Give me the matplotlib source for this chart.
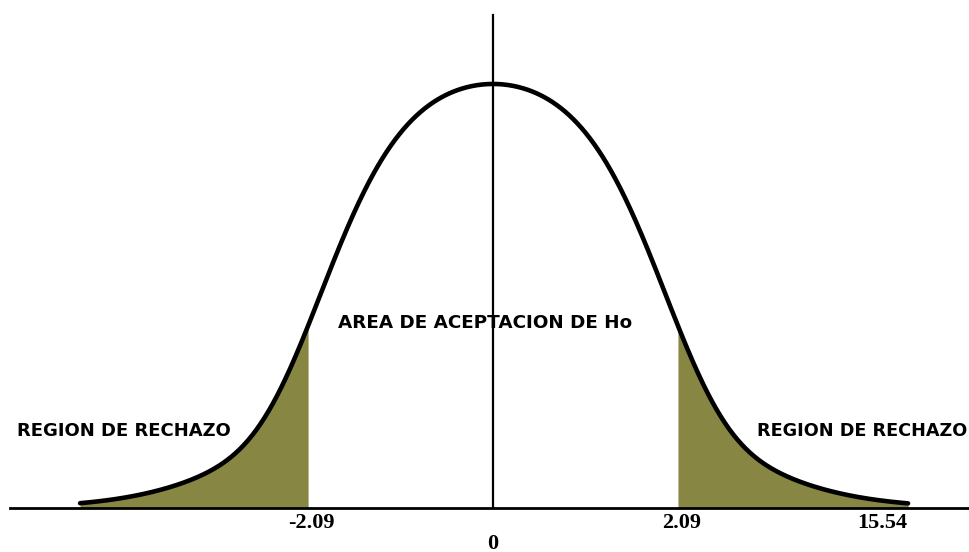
import matplotlib
matplotlib.use("Agg")
import matplotlib.pyplot as plt
import numpy as np

# bell curve: half gaussian, half flat-topped quartic (units of gaussian sigma)
z_left = -2.753
z_right = 2.767
quartic_scale = 1.253
cuts = [-1.233, 1.233]

# text labels under the baseline
tick_pos = [-1.213, 1.26, 2.593]
tick_labels = ['-2.09', '2.09', '15.54']
center_label = '0'

region_label = 'REGION DE RECHAZO'
accept_label = 'AREA DE ACEPTACION DE Ho'

fill_color = '#878743'


def bell(z):
    return 0.5 * np.exp(-z ** 2 / 2) + 0.5 * np.exp(-(z / quartic_scale) ** 4)


def main():
    fig = plt.figure(figsize=(9.7, 5.52), dpi=100)
    ax = fig.add_axes([0, 0, 1, 1])
    ax.set_xlim(-3.287, 3.18)
    ax.set_ylim(-0.1038, 1.198)
    ax.axis('off')

    x = np.linspace(z_left, z_right, 800)
    y = bell(x)

    # shaded tails
    xl = np.append(x[x <= cuts[0]], cuts[0])
    ax.fill_between(xl, 0, bell(xl), color=fill_color, lw=0)
    xr = np.insert(x[x >= cuts[1]], 0, cuts[1])
    ax.fill_between(xr, 0, bell(xr), color=fill_color, lw=0)

    ax.plot(x, y, color='black', lw=3.3, solid_capstyle='round')

    # axes lines
    ax.plot([-3.22, 3.18], [0, 0], color='black', lw=2)
    ax.plot([0, 0], [0, 1.163], color='black', lw=1.6)

    bold = dict(family='DejaVu Sans', weight='bold', color='black')
    ax.text(-3.173, 0.182, region_label, va='center', ha='left', fontsize=13, **bold)
    ax.text(1.76, 0.182, region_label, va='center', ha='left', fontsize=12.7, **bold)
    ax.text(-1.033, 0.436, accept_label, va='center', ha='left', fontsize=13.2, **bold)

    num = dict(family='Liberation Serif', weight='bold', color='black', fontsize=16)
    for p, t in zip(tick_pos, tick_labels):
        ax.text(p, -0.035, t, ha='center', va='center', **num)
    ax.text(0, -0.084, center_label, ha='center', va='center', **num)

    fig.savefig('out.png', dpi=100)


if __name__ == "__main__":
    main()
